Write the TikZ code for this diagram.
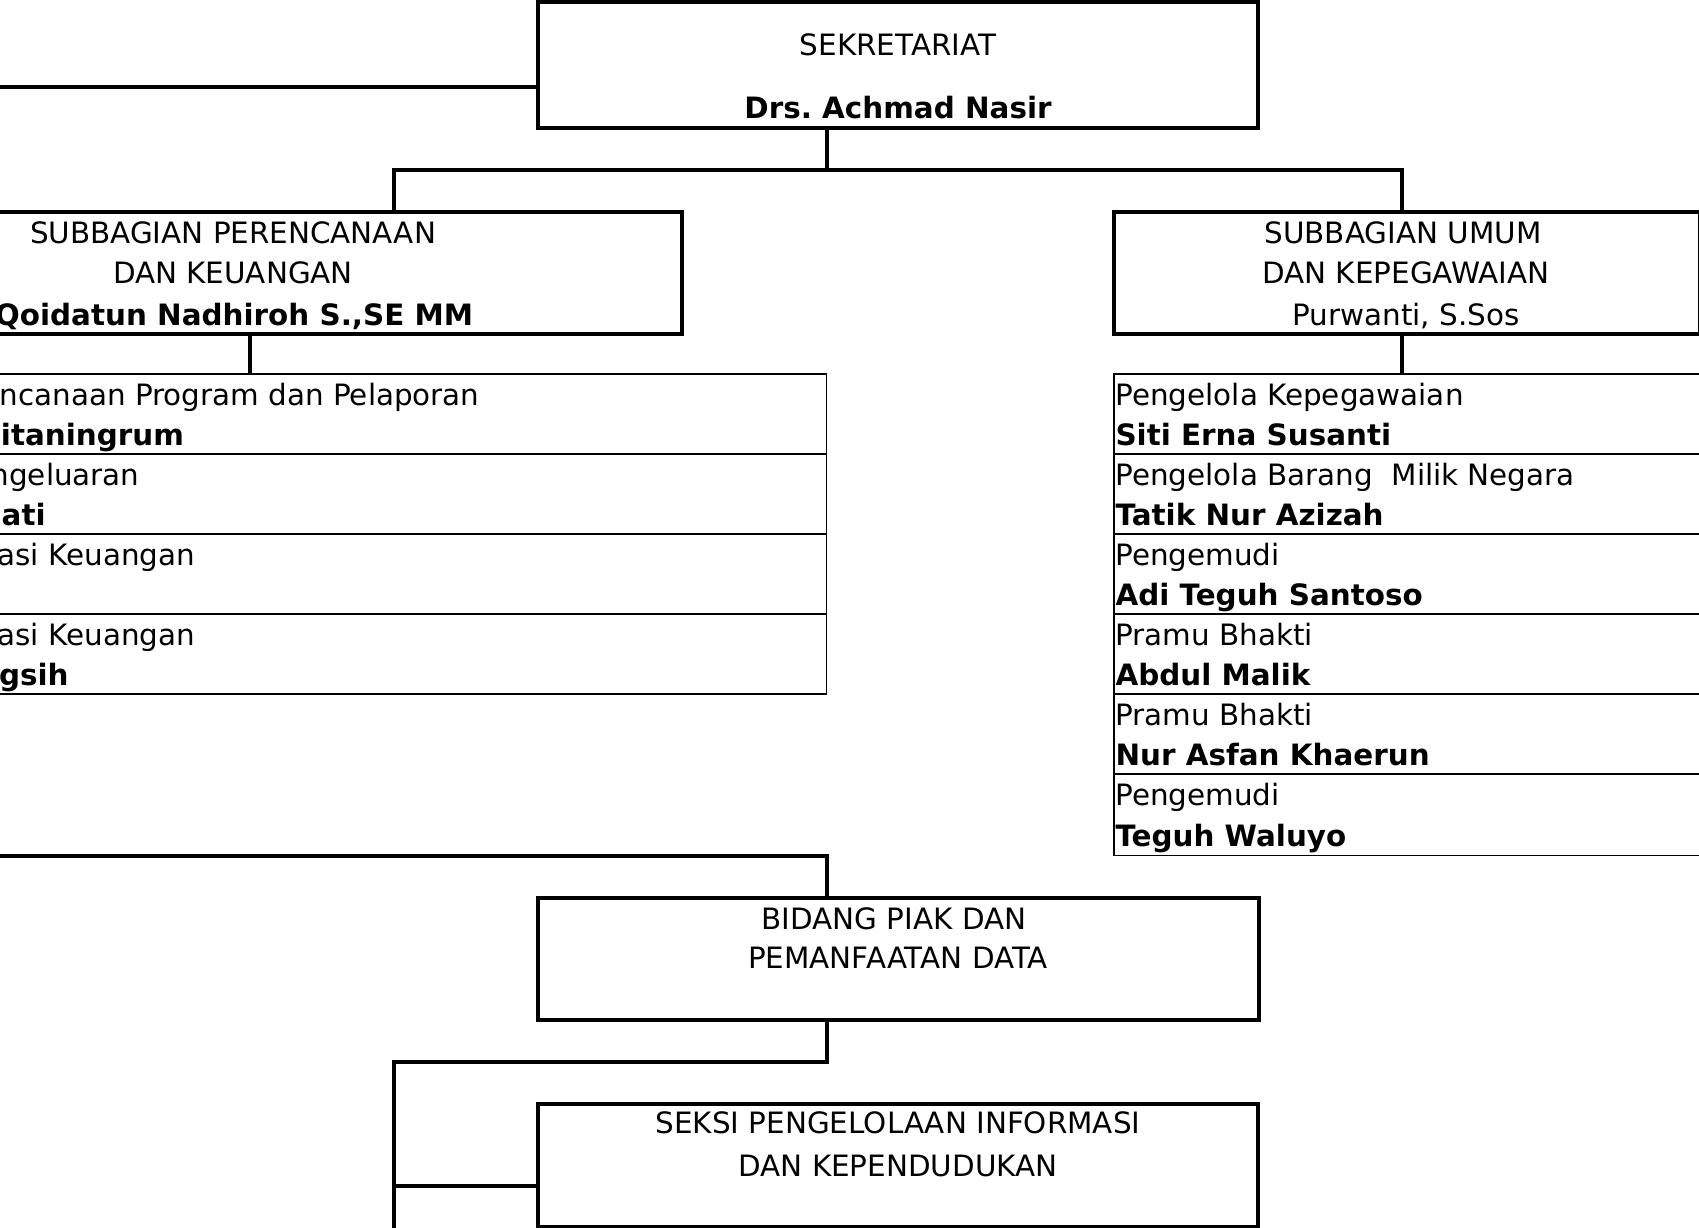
\documentclass[tikz,border=0pt]{standalone}
\usepackage{fontspec}
\setmainfont{DejaVu Sans}
\frenchspacing
\begin{document}
\begin{tikzpicture}[x=1pt,y=-1pt,
  box/.style={draw, line width=4pt, inner sep=0pt, outer sep=0pt, rectangle},
  cell/.style={draw, line width=1.6pt, inner sep=0pt, outer sep=0pt, rectangle, minimum height=80pt},
  conn/.style={line width=4pt},
  txt/.style={inner sep=0pt, outer sep=0pt, anchor=base, font=\fontsize{29.4}{35}\selectfont},
  bt/.style={txt, font=\fontsize{29.4}{35}\selectfont\bfseries},
  lt/.style={txt, anchor=base west},
  blt/.style={bt, anchor=base west},
  rt/.style={txt, anchor=base east},
  brt/.style={bt, anchor=base east},
]
\useasboundingbox (0,0) rectangle (1699,1228);
\clip (0,0) rectangle (1699,1228);

% boxes
\node[box, minimum width=720pt, minimum height=125.5pt] (sek) at (898,65.25) {};
\node[box, minimum width=792pt, minimum height=122pt] (perenc) at (286,273) {};
\node[box, minimum width=586pt, minimum height=122pt] (umum) at (1407,273) {};
\node[box, minimum width=721pt, minimum height=122pt] (bidang) at (898,959) {};
\node[box, minimum width=720pt, minimum height=122.5pt] (seksi) at (898,1165.25) {};

% left table
\node[cell, minimum width=846.5pt] (l1) at (403.25,414) {};
\node[cell, minimum width=846.5pt] (l2) at (403.25,494) {};
\node[cell, minimum width=846.5pt] (l3) at (403.25,574) {};
\node[cell, minimum width=846.5pt] (l4) at (403.25,654) {};

% right table
\node[cell, minimum width=606pt] (r1) at (1417,414) {};
\node[cell, minimum width=606pt] (r2) at (1417,494) {};
\node[cell, minimum width=606pt] (r3) at (1417,574) {};
\node[cell, minimum width=606pt] (r4) at (1417,654) {};
\node[cell, minimum width=606pt] (r5) at (1417,734) {};
\node[cell, minimum width=606pt, minimum height=81.5pt] (r6) at (1417,814.75) {};

% connector points
\coordinate (lftA) at (-10,87);
\coordinate (hubTop) at (826.5,170);
\coordinate (pj) at (394,170);
\coordinate (uj) at (1402,170);
\coordinate (pl) at (250,0);
\coordinate (ul) at (1402,0);
\coordinate (bl) at (-10,856);
\coordinate (bj) at (826.5,1062);
\coordinate (sj) at (394,1062);
\coordinate (sk) at (394,1186);
\coordinate (bot) at (394,1245);

\draw[conn] (lftA) -- (sek.west |- lftA);
\draw[conn] (sek.south -| hubTop) -- (hubTop);
\draw[conn] (perenc.north -| pj) -- (pj) -- (uj) -- (umum.north -| uj);
\draw[conn] (perenc.south -| pl) -- (l1.north -| pl);
\draw[conn] (umum.south -| ul) -- (r1.north -| ul);
\draw[conn] (bl) -- (bl -| hubTop) -- (bidang.north -| hubTop);
\draw[conn] (bidang.south -| bj) -- (bj) -- (sj) -- (bot);
\draw[conn] (sk) -- (seksi.west |- sk);

% texts in boxes
\node[txt] (t-sek1) at (898,56) {SEKRETARIAT};
\node[bt] (t-sek2) at (898,119) {Drs. Achmad Nasir};

\node[txt] (t-p1) at (233,243) {SUBBAGIAN PERENCANAAN};
\node[txt] (t-p2) at (233,283) {DAN KEUANGAN};
\node[bt] (t-p3) at (234,325) {Qoidatun Nadhiroh S.,SE MM};

\node[txt] (t-u1) at (1403,243) {SUBBAGIAN UMUM};
\node[txt] (t-u2) at (1406,283) {DAN KEPEGAWAIAN};
\node[txt] (t-u3) at (1406,325) {Purwanti, S.Sos};

\node[txt] (t-b1) at (894,929) {BIDANG PIAK DAN};
\node[txt] (t-b2) at (898,968) {PEMANFAATAN DATA};

\node[txt] (t-s1) at (898,1133) {SEKSI PENGELOLAAN INFORMASI};
\node[txt] (t-s2) at (898,1176) {DAN KEPENDUDUKAN};

% left table texts (cut at the left edge)
\node[rt] (tl1a) at (479.5,405) {ncanaan Program dan Pelaporan};
\node[brt] (tl1b) at (184,445) {itaningrum};
\node[rt] (tl2a) at (139.6,485) {ngeluaran};
\node[brt] (tl2b) at (45.7,525) {ati};
\node[rt] (tl3a) at (195,565) {asi Keuangan};
\node[rt] (tl4a) at (195,645) {asi Keuangan};
\node[brt] (tl4b) at (68.6,685) {gsih};

% right table texts
\node[lt] (tr1a) at (1115.5,405) {Pengelola Kepegawaian};
\node[blt] (tr1b) at (1115.5,445) {Siti Erna Susanti};
\node[lt] (tr2a) at (1115.5,485) {Pengelola Barang\ \ Milik Negara};
\node[blt] (tr2b) at (1115.5,525) {Tatik Nur Azizah};
\node[lt] (tr3a) at (1115.5,565) {Pengemudi};
\node[blt] (tr3b) at (1115.5,605) {Adi Teguh Santoso};
\node[lt] (tr4a) at (1115.5,645) {Pramu Bhakti};
\node[blt] (tr4b) at (1115.5,685) {Abdul Malik};
\node[lt] (tr5a) at (1115.5,725) {Pramu Bhakti};
\node[blt] (tr5b) at (1115.5,765) {Nur Asfan Khaerun};
\node[lt] (tr6a) at (1115.5,805) {Pengemudi};
\node[blt] (tr6b) at (1115.5,846) {Teguh Waluyo};
\end{tikzpicture}
\end{document}
